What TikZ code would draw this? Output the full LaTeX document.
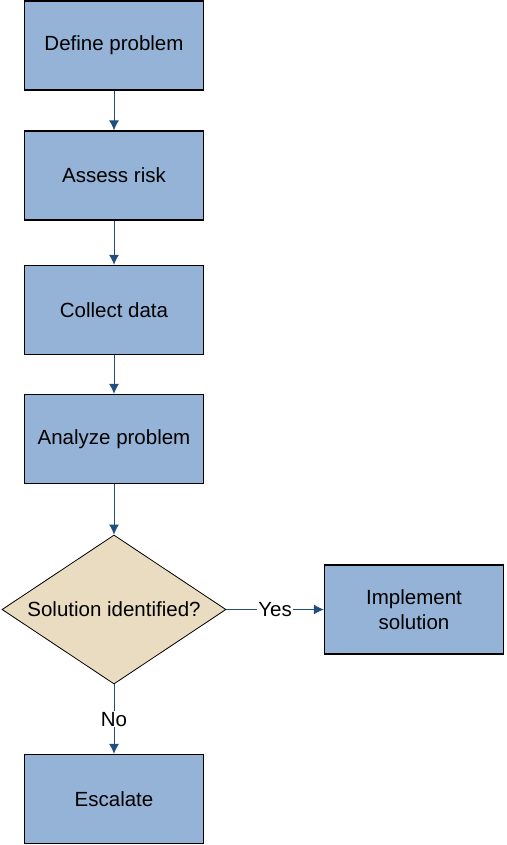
\documentclass[tikz,border=0pt]{standalone}
\usepackage{fontspec}
\setmainfont{Liberation Sans}
\usetikzlibrary{shapes.geometric,arrows.meta}
\definecolor{boxblue}{HTML}{95B3D7}
\definecolor{decisiontan}{HTML}{EADCC0}
\definecolor{arrowblue}{HTML}{1F4E7F}
\begin{document}
\begin{tikzpicture}[x=1pt,y=1pt]
\tikzset{stepbox/.style = {shape=rectangle,draw=black,line width=1.3pt,fill=boxblue,
  minimum width=179pt,minimum height=89pt,align=center,font=\fontsize{20.5}{25}\selectfont}}
\tikzset{decision/.style = {shape=diamond,aspect=1.5,draw=black,line width=0.8pt,fill=decisiontan,
  minimum width=224pt,minimum height=149pt,inner sep=0pt,font=\fontsize{20.5}{25}\selectfont}}
\tikzset{flow/.style = {draw=arrowblue,line width=1pt,-{Latex[length=10pt,width=10pt]}}}
\tikzset{lbl/.style = {fill=white,inner sep=1pt,font=\fontsize{20.5}{25}\selectfont}}
\useasboundingbox (0,0) rectangle (506,-845);
\node[stepbox] (define) at (114,-45.5) {Define problem};
\node[stepbox] (assess) at (114,-175.5) {Assess risk};
\node[stepbox] (collect) at (114,-310) {Collect data};
\node[stepbox] (analyze) at (114,-439) {Analyze problem};
\node[decision] (solved) at (114,-609.5) {Solution identified?};
\node[stepbox] (implement) at (414,-609.5) {Implement\\solution};
\node[stepbox] (escalate) at (114,-799) {Escalate};
\draw[flow] (define) to (assess);
\draw[flow] (assess) to (collect);
\draw[flow] (collect) to (analyze);
\draw[flow] (analyze) to (solved);
\draw[flow] (solved) to node[lbl] {Yes} (implement);
\draw[flow] (solved) to node[lbl,pos=0.5] {No} (escalate);
\end{tikzpicture}
\end{document}
